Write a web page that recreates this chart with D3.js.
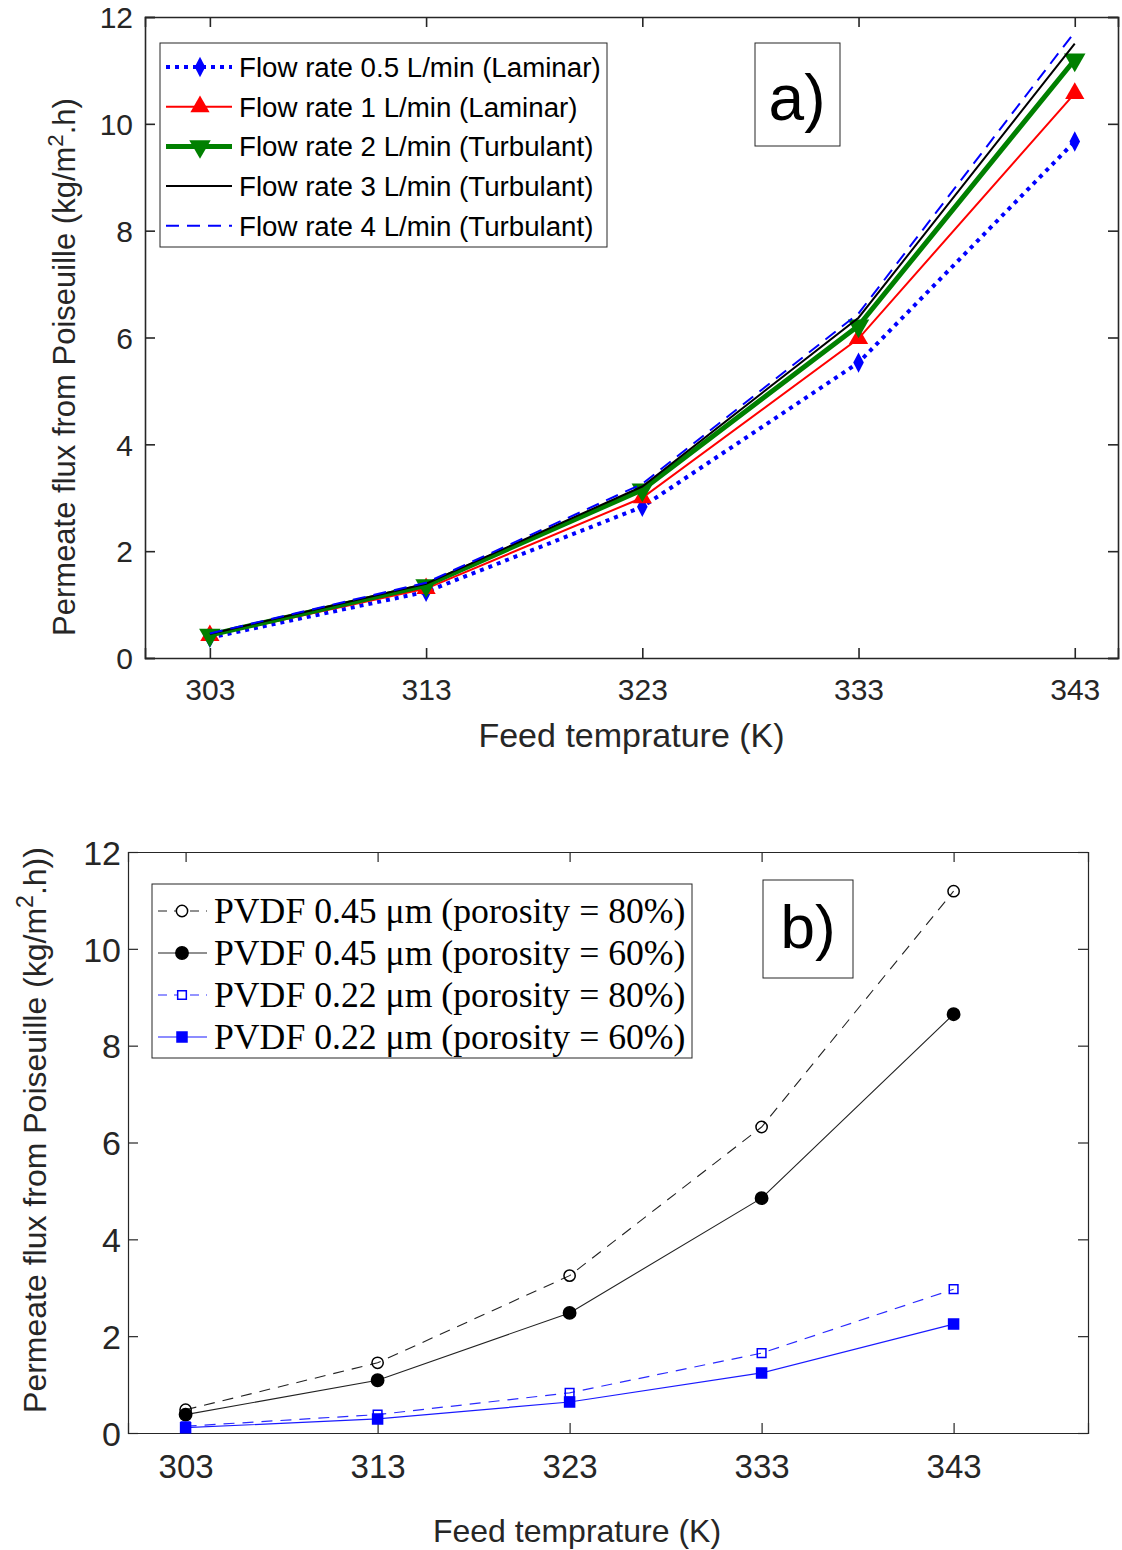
<!DOCTYPE html>
<html><head><meta charset="utf-8">
<script src="https://cdn.jsdelivr.net/npm/d3@7"></script>
<style>body{margin:0;background:#fff}</style>
</head><body>
<svg id="c" width="1122" height="1550"></svg>
<script>
// ---------- data ----------
const temps = [303, 313, 323, 333, 343];
const xTicks = [303, 313, 323, 333, 343];
const yTicks = [0, 2, 4, 6, 8, 10, 12];

// Panel a: flow rates
const flow05 = [0.38, 1.24, 2.83, 5.53, 9.67];
const flow1  = [0.42, 1.30, 3.00, 5.98, 10.57];
const flow2  = [0.43, 1.36, 3.15, 6.22, 11.20];
const flow3  = [0.45, 1.39, 3.21, 6.37, 11.50];
const flow4  = [0.46, 1.41, 3.26, 6.45, 11.72];
const legendA = ["Flow rate 0.5 L/min (Laminar)", "Flow rate 1 L/min (Laminar)",
  "Flow rate 2 L/min (Turbulant)", "Flow rate 3 L/min (Turbulant)", "Flow rate 4 L/min (Turbulant)"];

// Panel b: membranes
const p045_80 = [0.48, 1.45, 3.25, 6.32, 11.19];
const p045_60 = [0.38, 1.09, 2.48, 4.85, 8.65];
const p022_80 = [0.14, 0.38, 0.83, 1.65, 2.97];
const p022_60 = [0.11, 0.29, 0.64, 1.24, 2.25];
const legendB = ["PVDF 0.45 \u03bcm (porosity = 80%)", "PVDF 0.45 \u03bcm (porosity = 60%)",
  "PVDF 0.22 \u03bcm (porosity = 80%)", "PVDF 0.22 \u03bcm (porosity = 60%)"];

const svg = d3.select("#c");
const SANS = "'Liberation Sans', Arial, sans-serif";
const SERIF = "'Liberation Serif', 'Times New Roman', serif";
const AX = "#262626";

function panel(o) {
  const g = svg.append("g");
  const x = d3.scaleLinear().domain(o.xdom).range([o.left, o.right]);
  const y = d3.scaleLinear().domain([0, 12]).range([o.bottom, o.top]);
  const tl = o.tickLen;
  const bx = g.append("g").attr("transform", `translate(0,${o.bottom})`)
    .call(d3.axisBottom(x).tickValues(xTicks).tickSize(-tl).tickPadding(o.xPad).tickFormat(d3.format("d")));
  const tx = g.append("g").attr("transform", `translate(0,${o.top})`)
    .call(d3.axisTop(x).tickValues(xTicks).tickSize(-tl).tickFormat(""));
  const ly = g.append("g").attr("transform", `translate(${o.left},0)`)
    .call(d3.axisLeft(y).tickValues(yTicks).tickSize(-tl).tickPadding(o.yPad));
  const ry = g.append("g").attr("transform", `translate(${o.right},0)`)
    .call(d3.axisRight(y).tickValues(yTicks).tickSize(-tl).tickFormat(""));
  [bx, tx, ly, ry].forEach(a => {
    a.select(".domain").attr("stroke", AX).attr("stroke-width", o.axW);
    a.selectAll(".tick line").attr("stroke", AX).attr("stroke-width", o.axW);
    a.selectAll("text").attr("fill", "#262626").attr("font-family", SANS);
  });
  bx.selectAll("text").attr("font-size", o.xFont);
  ly.selectAll("text").attr("font-size", o.yFont).attr("dy", "0.36em");
  g.append("text").attr("x", (o.left + o.right) / 2 + o.xlabDx).attr("y", o.xlabY)
    .attr("text-anchor", "middle").attr("font-family", SANS).attr("font-size", o.xlabFont)
    .attr("fill", "#262626").text("Feed temprature (K)");
  const yl = g.append("text").attr("transform", `translate(${o.ylabX},${o.ylabY}) rotate(-90)`)
    .attr("text-anchor", "middle").attr("font-family", SANS).attr("font-size", o.ylabFont)
    .attr("fill", "#262626");
  yl.append("tspan").text("Permeate flux from Poiseuille (kg/m");
  yl.append("tspan").attr("dy", -o.ylabFont * 0.4).attr("font-size", o.ylabFont * 0.72).text("2");
  yl.append("tspan").attr("dy", o.ylabFont * 0.4).text(o.ylabTail);
  return {g, x, y};
}

// ---------- panel a ----------
const A = panel({left: 145, right: 1118, top: 17, bottom: 658, xdom: [300, 345], tickLen: 10,
  axW: 1.6, xFont: 30, yFont: 30, xPad: 21, yPad: 12, xlabDx: 0, xlabY: 747, xlabFont: 34,
  ylabX: 75, ylabY: 367, ylabFont: 31, ylabTail: ".h)"});

const seriesA = [
  {v: flow05, color: "#0000ff", w: 4, dash: "4,5", marker: "diamond", ms: 120},
  {v: flow1, color: "#ff0000", w: 2, dash: null, marker: "triUp", ms: 160},
  {v: flow2, color: "#008000", w: 5, dash: null, marker: "triDown", ms: 200},
  {v: flow3, color: "#000000", w: 2, dash: null, marker: null},
  {v: flow4, color: "#0000ff", w: 2, dash: "13,8", marker: null}
];
const symMap = {diamond: d3.symbolDiamond, triUp: d3.symbolTriangle, triDown: d3.symbolTriangle,
  circle: d3.symbolCircle, square: d3.symbolSquare};
function markerPath(s) { return d3.symbol().type(symMap[s.marker]).size(s.ms)(); }
function markerRot(s) { return s.marker === "triDown" ? " rotate(180)" : ""; }
function markerScale(s) { return s.marker === "diamond" ? " scale(0.9,1)" : ""; }

const lineA = d3.line().x((d, i) => A.x(temps[i])).y(d => A.y(d));
seriesA.forEach(s => {
  A.g.append("path").attr("d", lineA(s.v)).attr("fill", "none").attr("stroke", s.color)
    .attr("stroke-width", s.w).attr("stroke-dasharray", s.dash);
  if (s.marker) {
    A.g.selectAll(null).data(s.v).enter().append("path")
      .attr("d", markerPath(s))
      .attr("transform", (d, i) => `translate(${A.x(temps[i])},${A.y(d)})` + markerRot(s) + markerScale(s))
      .attr("fill", s.color);
  }
});

// legend a
const lgA = A.g.append("g");
lgA.append("rect").attr("x", 160).attr("y", 43).attr("width", 447).attr("height", 204)
  .attr("fill", "#fff").attr("stroke", "#262626").attr("stroke-width", 1);
seriesA.forEach((s, i) => {
  const cy = 67 + i * 39.7;
  lgA.append("line").attr("x1", 166).attr("x2", 232).attr("y1", cy).attr("y2", cy)
    .attr("stroke", s.color).attr("stroke-width", s.w).attr("stroke-dasharray", s.dash);
  if (s.marker) lgA.append("path").attr("d", markerPath(s))
    .attr("transform", `translate(200,${cy})` + markerRot(s) + markerScale(s))
    .attr("fill", s.color);
  lgA.append("text").attr("x", 239).attr("y", cy).attr("dy", "0.36em")
    .attr("font-family", SANS).attr("font-size", 27.7).attr("fill", "#000").text(legendA[i]);
});
A.g.append("rect").attr("x", 755).attr("y", 43).attr("width", 85).attr("height", 103)
  .attr("fill", "#fff").attr("stroke", "#262626").attr("stroke-width", 1);
A.g.append("text").attr("x", 797).attr("y", 120).attr("text-anchor", "middle")
  .attr("font-family", SANS).attr("font-size", 64).attr("fill", "#000").text("a)");

// ---------- panel b ----------
const B = panel({left: 128, right: 1088, top: 852, bottom: 1433, xdom: [300, 350], tickLen: 10,
  axW: 1.2, xFont: 33, yFont: 34, xPad: 22, yPad: 7, xlabDx: -31, xlabY: 1542, xlabFont: 32,
  ylabX: 46, ylabY: 1130, ylabFont: 32, ylabTail: ".h))"});

const seriesB = [
  {v: p045_80, color: "#222", w: 1.1, dash: "11,8", marker: "circle", ms: 100, fill: "none", mstroke: "#000"},
  {v: p045_60, color: "#222", w: 1.1, dash: null, marker: "circle", ms: 120, fill: "#000", mstroke: "#000"},
  {v: p022_80, color: "#2a2aff", w: 1.2, dash: "11,8", marker: "square", ms: 75, fill: "none", mstroke: "#0000ff"},
  {v: p022_60, color: "#1a1aff", w: 1.2, dash: null, marker: "square", ms: 100, fill: "#0000ff", mstroke: "#0000ff"}
];
const lineB = d3.line().x((d, i) => B.x(temps[i])).y(d => B.y(d));
seriesB.forEach(s => {
  B.g.append("path").attr("d", lineB(s.v)).attr("fill", "none").attr("stroke", s.color)
    .attr("stroke-width", s.w).attr("stroke-dasharray", s.dash);
  B.g.selectAll(null).data(s.v).enter().append("path")
    .attr("d", markerPath(s))
    .attr("transform", (d, i) => `translate(${B.x(temps[i])},${B.y(d)})`)
    .attr("fill", s.fill).attr("stroke", s.mstroke).attr("stroke-width", 1.5);
});
const lgB = B.g.append("g");
lgB.append("rect").attr("x", 152).attr("y", 884).attr("width", 540).attr("height", 174)
  .attr("fill", "#fff").attr("stroke", "#262626").attr("stroke-width", 1);
seriesB.forEach((s, i) => {
  const cy = 911 + i * 42;
  lgB.append("line").attr("x1", 158).attr("x2", 207).attr("y1", cy).attr("y2", cy)
    .attr("stroke", s.color).attr("stroke-width", s.w).attr("stroke-dasharray", s.dash ? "9,7" : null);
  lgB.append("path").attr("d", markerPath(s)).attr("transform", `translate(182,${cy})`)
    .attr("fill", s.fill === "none" ? "#fff" : s.fill).attr("stroke", s.mstroke).attr("stroke-width", 1.5);
  lgB.append("text").attr("x", 214).attr("y", cy).attr("dy", "0.34em")
    .attr("font-family", SERIF).attr("font-size", 35.7).attr("fill", "#000").text(legendB[i]);
});
B.g.append("rect").attr("x", 763).attr("y", 880).attr("width", 90).attr("height", 98)
  .attr("fill", "#fff").attr("stroke", "#262626").attr("stroke-width", 1);
B.g.append("text").attr("x", 808).attr("y", 948).attr("text-anchor", "middle")
  .attr("font-family", SANS).attr("font-size", 62).attr("fill", "#000").text("b)");
</script>
</body></html>
